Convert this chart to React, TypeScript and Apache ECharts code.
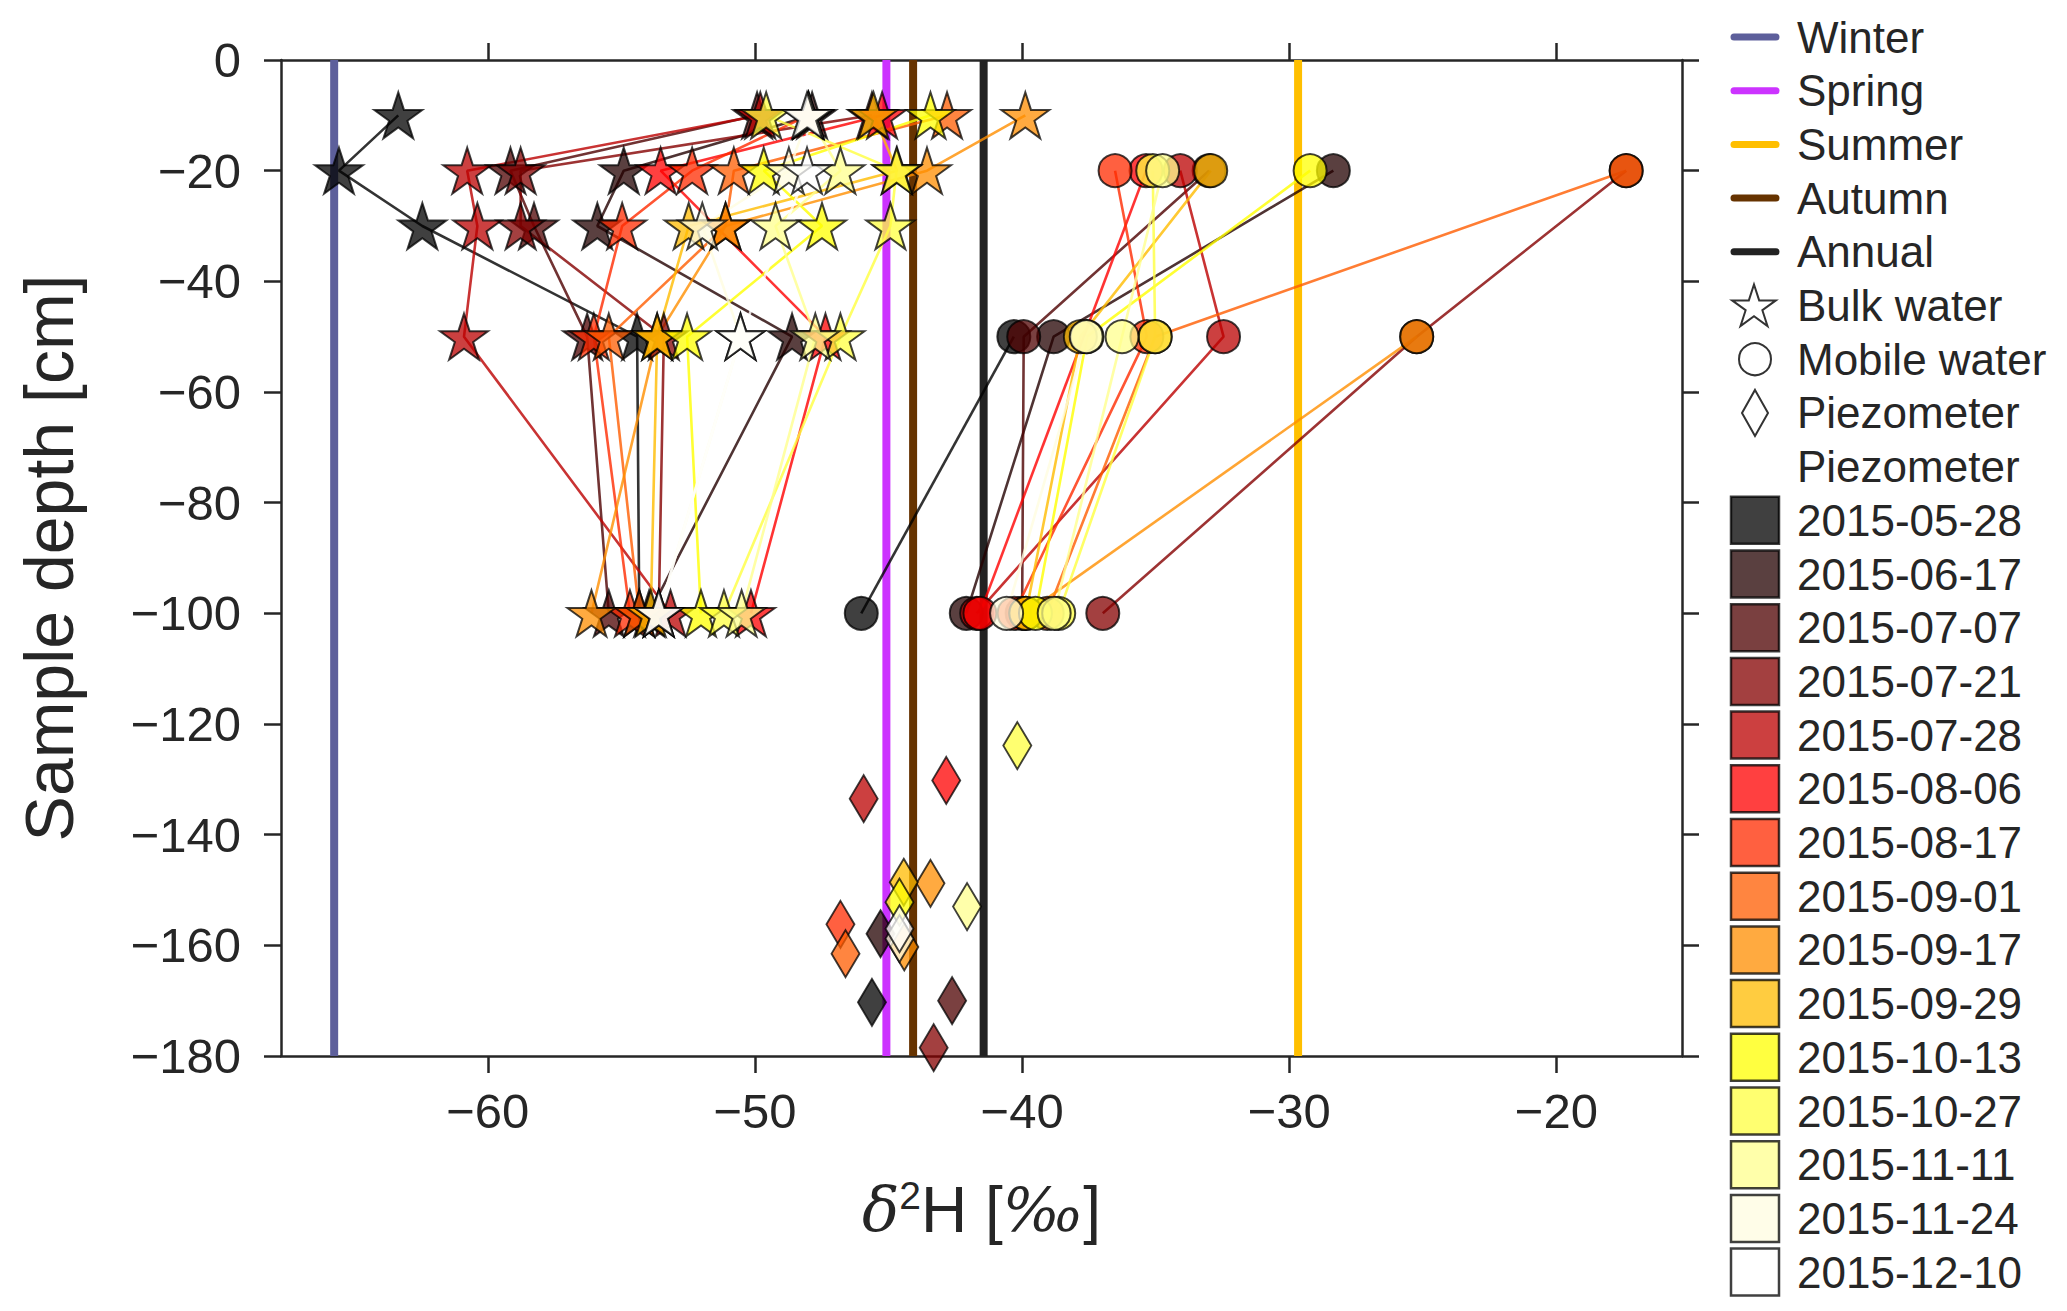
import * as echarts from "echarts";
import { useEffect, useRef } from "react";

// ---- data ----
const dates = [
  "2015-05-28", "2015-06-17", "2015-07-07", "2015-07-21", "2015-07-28",
  "2015-08-06", "2015-08-17", "2015-09-01", "2015-09-17", "2015-09-29",
  "2015-10-13", "2015-10-27", "2015-11-11", "2015-11-24", "2015-12-10",
];
// "hot" colormap samples, drawn with alpha 0.75
const dateColors = [
  "#000000", "#230000", "#4e0000", "#840000", "#bb0000",
  "#ff0000", "#ff2b00", "#ff5c00", "#ff8e00", "#ffbb00",
  "#ffff00", "#ffff40", "#ffff8e", "#fffce0", "#ffffff",
];

const seasonNames = ["Winter", "Spring", "Summer", "Autumn", "Annual"];
const seasonValues = [-65.75, -45.08, -29.67, -44.08, -41.44];
const seasonColors = ["#5d5f9b", "#cc33ff", "#ffbf00", "#663300", "#222222"];

// bulk water (stars), depths in cm
const bulkDepths = [-10, -20, -30, -50, -100];
const bulkValues: (number | null)[][] = [
  [-63.35, -65.57, -62.45, -54.41, -54.33],
  [-47.86, -54.91, -55.9, -48.61, -53.96],
  [-49.92, -59.15, -58.27, -56.28, -55.47],
  [-45.62, -58.77, -58.77, -53.41, -53.6],
  [-49.8, -60.77, -60.39, -60.89, -53.16],
  [-45.24, -53.53, null, -47.36, -50.15],
  [-48.0, -52.35, -54.97, -56.03, -54.68],
  [-42.81, -50.79, -51.1, -55.47, -54.33],
  [-39.88, -43.56, -51.1, -53.66, -56.12],
  [-45.56, -44.68, -52.48, -53.66, -53.9],
  [-43.43, -49.67, -47.49, -52.54, -52.02],
  [-49.58, -44.7, -44.93, -46.8, -51.16],
  [-48.0, -46.8, -49.23, -47.74, -50.5],
  [-47.99, -48.73, -51.97, -50.54, -53.6],
  [-48.05, -48.05, null, -50.54, -53.6],
];

// mobile water (circles)
const mobileDepths = [-20, -50, -100];
const mobileValues: (number | null)[][] = [
  [null, -40.31, -46.02],
  [-28.35, -38.82, -42.09],
  [-33.0, -39.94, -40.0],
  [-17.39, -25.23, -36.98],
  [-34.08, -32.46, -41.7],
  [-35.36, null, -41.58],
  [-36.52, -35.33, -40.3],
  [-17.39, -35.02, -39.06],
  [null, -25.23, -39.86],
  [-32.94, -37.82, -39.86],
  [-29.22, -37.57, -39.5],
  [-35.11, -35.02, -38.63],
  [-34.74, -36.26, -38.8],
  [null, -37.6, -40.58],
  [null, null, null],
];

// piezometer (diamonds): [delta2H, depth]
const piezoPoints: number[][][] = [
  [[-45.62, -170.3]],
  [[-45.3, -157.9]],
  [[-42.62, -170.0]],
  [[-43.31, -178.5]],
  [[-45.93, -133.5]],
  [[-42.84, -130.2]],
  [[-46.8, -156.2]],
  [[-46.61, -161.5]],
  [[-43.43, -148.8], [-44.41, -160.3]],
  [[-44.43, -148.6]],
  [[-44.59, -152.2]],
  [[-40.18, -123.9]],
  [[-42.06, -153.0]],
  [[-44.59, -158.8]],
  [[-44.59, -157.0]],
];

const xMin = -67.74;
const xMax = -15.3;
const xTicks = [-60, -50, -40, -30, -20];
const yMin = -180;
const yMax = 0;

const FONT = "Liberation Sans, Arial, sans-serif";
const INK = "#262626";

function starPoints(cx: number, cy: number, ro: number, ri: number) {
  const pts: number[][] = [];
  for (let i = 0; i < 10; i++) {
    const a = -Math.PI / 2 + (i * Math.PI) / 5;
    const r = i % 2 === 0 ? ro : ri;
    pts.push([cx + r * Math.cos(a), cy + r * Math.sin(a)]);
  }
  return pts;
}

const starSymbol =
  "path://" +
  starPoints(0, 0, 1, 0.382)
    .map((p, i) => (i ? "L" : "M") + p[0].toFixed(4) + " " + p[1].toFixed(4))
    .join(" ") +
  "Z";

const minus = (v: number) => (v < 0 ? "\u2212" + Math.abs(v) : String(v));

export default function App() {
  const chartRef = useRef<HTMLDivElement | null>(null);

  useEffect(() => {
    if (!chartRef.current) return;
    const chart = echarts.init(chartRef.current, undefined, { renderer: "svg" });

    const series: any[] = [];

    seasonNames.forEach((name, i) => {
      series.push({
        type: "line",
        name,
        data: [[seasonValues[i], yMin], [seasonValues[i], yMax]],
        symbol: "none",
        lineStyle: { color: seasonColors[i], width: 8 },
        silent: true,
        z: 1,
      });
    });

    dates.forEach((d, i) => {
      const color = dateColors[i];
      const bulk = bulkDepths
        .map((dep, j) => [bulkValues[i][j], dep])
        .filter((p) => p[0] !== null);
      const mobile = mobileDepths
        .map((dep, j) => [mobileValues[i][j], dep])
        .filter((p) => p[0] !== null);
      const itemStyle = { color, borderColor: "#000", borderWidth: 2, opacity: 0.75 };
      const lineStyle = { color, width: 2.6, opacity: 0.8 };
      series.push({
        type: "line",
        name: d + " bulk",
        data: bulk,
        symbol: starSymbol,
        symbolSize: [48, 46],
        showAllSymbol: true,
        lineStyle,
        itemStyle,
        emphasis: { disabled: true },
        silent: true,
        z: 3,
      });
      if (mobile.length) {
        series.push({
          type: "line",
          name: d + " mobile",
          data: mobile,
          symbol: "circle",
          symbolSize: 33,
          showAllSymbol: true,
          lineStyle,
          itemStyle,
          emphasis: { disabled: true },
          silent: true,
          z: 3,
        });
      }
      series.push({
        type: "scatter",
        name: d + " piezometer",
        data: piezoPoints[i],
        symbol: "diamond",
        symbolSize: [28, 47],
        itemStyle,
        emphasis: { disabled: true },
        silent: true,
        z: 3,
      });
    });

    // legend drawn with graphic elements
    const rowY = (i: number) => 37 + i * 53.7;
    const lx0 = 1731;
    const tx = 1797;
    const graphic: any[] = [];
    const label = (text: string, i: number) => ({
      type: "text",
      x: tx,
      y: rowY(i),
      style: { text, fontSize: 44, fontFamily: FONT, fill: INK, verticalAlign: "middle" },
    });
    seasonNames.forEach((name, i) => {
      graphic.push({
        type: "line",
        shape: { x1: lx0 + 3, y1: rowY(i), x2: lx0 + 45, y2: rowY(i) },
        style: { stroke: seasonColors[i], lineWidth: 7, lineCap: "round" },
      });
      graphic.push(label(name, i));
    });
    const mk = { fill: "#ffffff", stroke: "#333333", lineWidth: 2 };
    graphic.push({
      type: "polygon",
      shape: { points: starPoints(lx0 + 23, rowY(5) + 2, 23, 8.8) },
      style: mk,
    });
    graphic.push(label("Bulk water", 5));
    graphic.push({
      type: "circle",
      shape: { cx: lx0 + 24, cy: rowY(6), r: 16 },
      style: mk,
    });
    graphic.push(label("Mobile water", 6));
    graphic.push({
      type: "polygon",
      shape: {
        points: [
          [lx0 + 24, rowY(7) - 23],
          [lx0 + 37, rowY(7)],
          [lx0 + 24, rowY(7) + 23],
          [lx0 + 11, rowY(7)],
        ],
      },
      style: mk,
    });
    graphic.push(label("Piezometer", 7));
    graphic.push(label("Piezometer", 8));
    dates.forEach((d, i) => {
      const r = 9 + i;
      graphic.push({
        type: "rect",
        shape: { x: lx0, y: rowY(r) - 23.5, width: 48, height: 47 },
        style: { fill: dateColors[i], opacity: 0.75, stroke: "#000", lineWidth: 2.5 },
      });
      graphic.push(label(d, r));
    });

    const axisLine = { show: true, onZero: false, lineStyle: { color: INK, width: 2.5 } };
    const tickStyle = { color: INK, width: 2.5 };

    chart.setOption({
      animation: false,
      backgroundColor: "#ffffff",
      grid: { left: 281, top: 60, width: 1401, height: 996, containLabel: false },
      xAxis: [
        {
          type: "value",
          position: "bottom",
          min: xMin,
          max: xMax,
          axisLine,
          axisTick: { show: true, inside: false, length: 17, lineStyle: tickStyle, customValues: xTicks },
          axisLabel: {
            customValues: xTicks,
            formatter: (v: number) => minus(v),
            fontSize: 49,
            fontFamily: FONT,
            color: INK,
            margin: 30,
          },
          splitLine: { show: false },
          name: "{d|\u03b4}{s|2}{h|H [}{p|\u2030}{h|]}",
          nameLocation: "middle",
          nameGap: 120,
          nameTextStyle: {
            rich: {
              d: { fontFamily: "DejaVu Serif", fontStyle: "italic", fontSize: 62, color: INK },
              s: { fontFamily: FONT, fontSize: 39, color: INK, verticalAlign: "top", padding: [0, 0, 28, 0] },
              h: { fontFamily: FONT, fontSize: 64, color: INK },
              p: { fontFamily: "DejaVu Serif", fontStyle: "italic", fontSize: 60, color: INK },
            },
          },
        },
        {
          type: "value",
          position: "top",
          min: xMin,
          max: xMax,
          axisLine,
          axisTick: { show: true, inside: false, length: 17, lineStyle: tickStyle, customValues: xTicks },
          axisLabel: { show: false },
          splitLine: { show: false },
        },
      ],
      yAxis: [
        {
          type: "value",
          position: "left",
          min: yMin,
          max: yMax,
          interval: 20,
          axisLine,
          axisTick: { show: true, inside: false, length: 17, lineStyle: tickStyle },
          axisLabel: {
            formatter: (v: number) => minus(v),
            fontSize: 49,
            fontFamily: FONT,
            color: INK,
            margin: 40,
          },
          splitLine: { show: false },
          name: "Sample depth [cm]",
          nameLocation: "middle",
          nameGap: 198,
          nameRotate: 90,
          nameTextStyle: { fontSize: 68, fontFamily: FONT, color: INK },
        },
        {
          type: "value",
          position: "right",
          min: yMin,
          max: yMax,
          interval: 20,
          axisLine,
          axisTick: { show: true, inside: false, length: 17, lineStyle: tickStyle },
          axisLabel: { show: false },
          splitLine: { show: false },
        },
      ],
      series,
      graphic,
    });

    return () => {
      chart.dispose();
    };
  }, []);

  return (
    <div
      ref={chartRef}
      style={{ position: "fixed", left: 0, top: 0, width: 2067, height: 1311, background: "#fff" }}
    />
  );
}
